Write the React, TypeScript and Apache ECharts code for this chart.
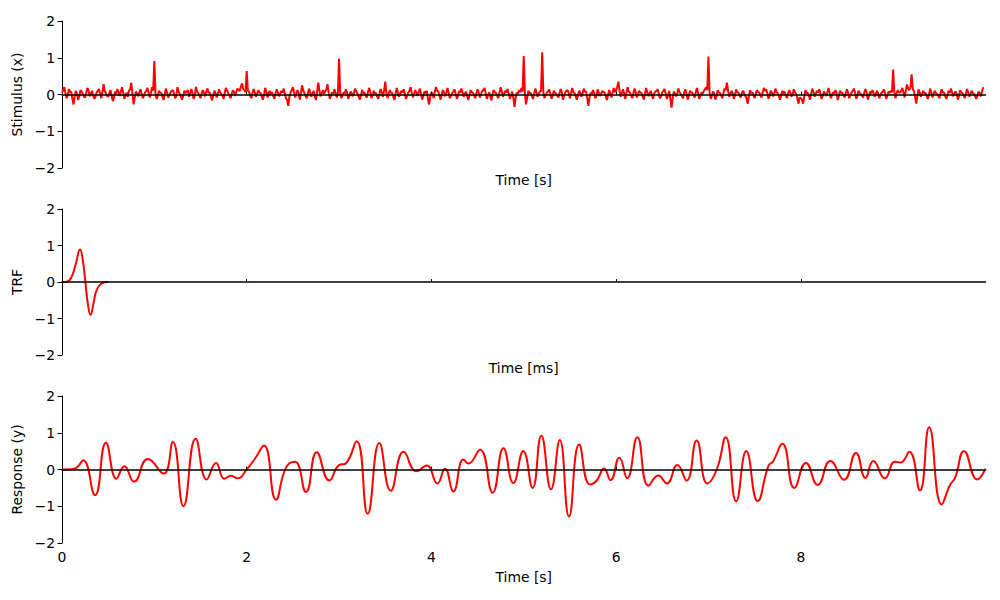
import React, { useEffect, useRef } from "react";
import * as echarts from "echarts";

// sample step of the stimulus, seconds
const STIM_DT = 0.0125;

// Stimulus (x), one row per 0.5 s
const stimulus: number[] = [
  0.05, 0.12, 0.2, 0.04, -0.1, -0.02, 0.15, 0.06, 0.08, -0.12, -0.27, -0.05, 0.1, 0.02, -0.15, -0.04, 0.12, 0.08, 0.02, -0.06, -0.08, 0.05, 0.18, 0.1, -0.05, 0.03, 0.1, -0.02, -0.12, -0.06, 0.06, 0.1, 0.15, 0.02, -0.1, 0.06, 0.28, 0.1, 0.03, -0.04,
  -0.06, 0.04, 0.12, -0.03, -0.18, -0.08, 0.08, 0.02, 0.15, 0.06, -0.04, 0.08, 0.2, 0.05, -0.12, -0.02, 0.05, -0.06, 0.1, 0.14, 0.32, 0.04, -0.27, -0.1, 0.08, 0.03, -0.05, 0.06, 0.14, 0.02, -0.1, -0.03, 0.06, 0.1, 0.18, 0.05, -0.08, 0.04, 0.2, 0.1,
  0.91, 0.02, -0.12, -0.04, 0.1, 0.05, 0.04, -0.06, -0.15, 0.02, 0.16, 0.06, -0.08, -0.02, 0.06, 0.1, 0.12, 0.03, -0.1, -0.04, 0.2, 0.08, 0.02, -0.05, -0.14, -0.03, 0.1, 0.04, 0.08, 0.12, -0.06, 0.02, 0.15, 0.05, -0.12, -0.04, 0.21, 0.08, 0.04, -0.03,
  -0.1, 0.03, 0.12, 0.05, -0.05, 0.08, 0.16, 0.04, 0.06, -0.06, -0.16, -0.02, 0.1, 0.04, -0.08, 0.02, 0.14, 0.06, 0.02, -0.04, -0.12, 0.05, 0.18, 0.1, 0.05, -0.03, -0.1, 0.02, 0.12, 0.06, -0.04, 0.08, 0.16, 0.12, 0.1, 0.22, 0.3, 0.14, 0.12, 0.06,
  0.64, 0.1, 0.08, -0.03, -0.1, 0.04, 0.15, 0.06, -0.06, 0.02, 0.12, 0.05, 0.04, -0.05, -0.14, -0.02, 0.18, 0.08, -0.08, 0.03, 0.1, 0.02, 0.06, -0.04, -0.12, 0.03, 0.14, 0.06, -0.05, 0.02, 0.1, 0.05, 0.16, 0.03, -0.1, -0.15, -0.31, -0.06, 0.05, 0.12,
  0.2, 0.06, -0.08, 0.02, 0.12, 0.04, -0.14, 0.05, 0.25, 0.1, 0.04, -0.04, -0.1, 0.03, 0.16, 0.06, -0.06, 0.02, 0.1, -0.05, -0.15, 0.08, 0.32, 0.1, -0.05, 0.04, 0.12, 0.02, 0.08, 0.14, 0.28, 0.05, -0.12, -0.03, 0.06, 0.02, 0.14, 0.04, -0.08, 0.05,
  0.98, 0.04, -0.1, -0.02, 0.06, 0.03, 0.14, 0.05, -0.12, -0.03, 0.08, 0.02, -0.05, 0.06, 0.16, 0.08, 0.02, -0.06, -0.14, -0.02, 0.12, 0.04, 0.05, -0.03, -0.08, 0.06, 0.18, 0.08, -0.1, -0.02, 0.1, 0.03, 0.04, -0.05, -0.12, 0.02, 0.15, 0.06, -0.06, 0.1,
  0.35, 0.06, -0.1, 0.02, 0.12, 0.05, 0.04, -0.06, -0.15, 0.03, 0.18, 0.06, -0.06, 0.02, 0.1, 0.05, 0.14, 0.02, -0.12, -0.04, 0.06, 0.1, 0.2, 0.04, -0.08, 0.02, 0.12, 0.05, -0.04, 0.06, 0.16, 0.02, -0.14, -0.03, 0.08, 0.04, 0.1, -0.12, -0.27, -0.06,
  0.06, 0.02, -0.1, 0.08, 0.2, 0.1, 0.08, -0.04, -0.14, 0.02, 0.12, 0.05, -0.05, 0.06, 0.18, 0.04, -0.1, -0.02, 0.04, 0.08, 0.14, 0.03, -0.12, -0.04, 0.1, 0.05, 0.16, 0.06, -0.06, 0.02, 0.08, -0.04, -0.15, -0.02, 0.12, 0.06, 0.05, -0.03, -0.1, 0.04,
  0.14, 0.05, -0.08, 0.02, 0.1, 0.12, 0.18, 0.04, -0.12, -0.02, 0.06, -0.05, -0.16, 0.02, 0.12, 0.06, 0.04, -0.04, -0.1, 0.06, 0.2, 0.08, -0.06, 0.02, 0.1, 0.05, 0.15, 0.03, -0.12, -0.02, 0.08, -0.1, -0.34, -0.08, 0.05, 0.03, 0.12, 0.06, 0.18, 0.08,
  1.05, 0.02, -0.27, -0.08, 0.1, 0.04, 0.04, -0.03, -0.12, 0.02, 0.16, 0.06, -0.06, 0.02, 0.08, 0.1, 1.15, 0.05, -0.1, -0.02, 0.05, 0.08, 0.14, 0.03, -0.12, -0.04, 0.1, 0.06, 0.02, -0.03, -0.08, 0.04, 0.15, 0.06, -0.14, -0.02, 0.06, 0.1, 0.12, 0.04,
  -0.1, 0.04, 0.18, 0.06, 0.04, -0.05, -0.14, -0.02, 0.1, 0.04, -0.06, 0.03, 0.16, 0.08, 0.08, -0.1, -0.31, -0.08, 0.05, 0.02, 0.12, 0.04, -0.1, -0.03, 0.14, 0.05, -0.04, 0.02, 0.1, 0.06, 0.06, -0.04, -0.15, -0.02, 0.12, 0.04, -0.08, 0.05, 0.18, 0.06,
  0.12, 0.2, 0.35, 0.1, -0.06, 0.04, 0.14, 0.02, -0.12, 0.05, 0.2, 0.08, 0.05, -0.03, -0.1, 0.04, 0.16, 0.06, -0.08, 0.02, 0.1, 0.05, 0.04, -0.05, -0.14, 0.02, 0.18, 0.06, -0.05, 0.03, 0.1, -0.02, -0.12, 0.03, 0.08, 0.1, 0.14, 0.02, -0.1, -0.04,
  0.06, 0.1, 0.15, 0.02, -0.12, -0.03, 0.1, -0.12, -0.36, -0.1, 0.08, 0.03, -0.05, 0.04, 0.16, 0.06, 0.02, -0.04, -0.1, 0.05, 0.14, 0.02, -0.14, -0.04, 0.1, 0.06, 0.05, -0.02, -0.08, 0.06, 0.18, 0.04, -0.12, -0.03, 0.06, 0.02, 0.1, 0.14, 0.2, 0.12,
  1.03, 0.04, -0.12, -0.03, 0.08, 0.02, -0.14, -0.04, 0.12, 0.05, 0.04, -0.03, -0.1, 0.04, 0.16, 0.12, 0.32, 0.1, -0.06, 0.02, 0.1, 0.04, -0.12, -0.02, 0.14, 0.06, 0.05, -0.03, -0.08, 0.04, 0.1, 0.02, -0.04, -0.1, -0.25, -0.05, 0.12, 0.04, 0.06, -0.02,
  -0.1, 0.03, 0.12, 0.05, 0.06, -0.02, -0.08, 0.06, 0.18, 0.1, 0.14, 0.04, -0.12, -0.03, 0.1, 0.05, -0.05, 0.02, 0.16, 0.06, 0.04, -0.04, -0.14, -0.02, 0.1, 0.03, 0.08, -0.03, -0.1, 0.04, 0.12, 0.05, -0.06, 0.02, 0.14, 0.06, 0.02, -0.1, -0.25, -0.08,
  -0.1, -0.14, -0.25, -0.05, 0.12, 0.04, 0.04, -0.03, -0.14, 0.02, 0.16, 0.06, -0.06, 0.03, 0.1, 0.05, 0.14, 0.02, -0.12, -0.04, 0.08, 0.03, -0.04, 0.06, 0.18, 0.05, -0.1, -0.02, 0.06, 0.03, 0.12, 0.04, -0.15, -0.03, 0.1, 0.05, 0.04, -0.02, -0.08, 0.04,
  0.14, 0.04, -0.1, -0.02, 0.06, 0.1, 0.16, 0.05, -0.12, -0.03, 0.1, 0.04, 0.02, -0.03, -0.08, 0.05, 0.15, 0.06, -0.14, -0.04, 0.08, 0.03, 0.12, 0.05, -0.06, 0.02, 0.1, 0.03, -0.1, -0.02, 0.05, 0.08, 0.14, 0.03, -0.12, -0.02, 0.08, 0.04, 0.1, 0.06,
  0.68, 0.05, -0.1, 0.03, 0.12, 0.06, 0.05, 0.1, 0.18, 0.04, -0.08, 0.12, 0.27, 0.16, 0.12, 0.2, 0.55, 0.14, 0.1, -0.06, -0.25, -0.04, 0.14, 0.05, -0.06, 0.02, 0.1, 0.04, 0.04, -0.03, -0.12, -0.02, 0.16, 0.06, -0.08, 0.02, 0.1, 0.04, 0.02, -0.03,
  -0.1, 0.03, 0.14, 0.05, 0.06, -0.03, -0.12, -0.02, 0.1, 0.04, 0.16, 0.06, -0.05, 0.02, 0.08, 0.03, -0.14, -0.04, 0.12, 0.05, 0.04, -0.02, -0.1, 0.03, 0.15, 0.06, -0.06, 0.02, 0.1, 0.04, 0.02, -0.05, -0.12, -0.02, 0.08, 0.03, -0.05, 0.08,
  0.2,
];

// TRF
const trfT = [0, 0.05, 0.1, 0.15, 0.195, 0.225, 0.253, 0.28, 0.31, 0.34, 0.375, 0.43, 0.5];
const trfV = [0, 0.005, 0.12, 0.5, 0.89, 0.6, 0, -0.6, -0.9, -0.6, -0.22, -0.04, 0];

// Response (y)
const respT = [
  0, 0.1, 0.16, 0.23, 0.357, 0.476, 0.59, 0.675, 0.78, 0.93, 1.1, 1.2, 1.315, 1.447, 1.567, 1.668, 1.757, 1.83, 1.9,
  2.0, 2.09, 2.187, 2.317, 2.425, 2.523, 2.642, 2.758, 2.895, 3.0, 3.07, 3.19, 3.31, 3.436, 3.56, 3.7, 3.84, 3.95,
  4.064, 4.147, 4.237, 4.346, 4.4, 4.526, 4.663, 4.78, 4.887, 4.995, 5.096, 5.19, 5.295, 5.39, 5.49, 5.6, 5.717,
  5.79, 5.87, 5.94, 6.035, 6.12, 6.23, 6.35, 6.457, 6.55, 6.663, 6.764, 6.872, 6.988, 7.09, 7.187, 7.3, 7.41, 7.533,
  7.65, 7.7, 7.8, 7.93, 8.056, 8.183, 8.32, 8.468, 8.598, 8.7, 8.785, 8.91, 9.02, 9.08, 9.175, 9.29, 9.39, 9.525,
  9.616, 9.67, 9.768, 9.91, 10.0,
];
const respV = [
  0, 0.01, 0.05, 0.25, -0.7, 0.73, -0.25, 0.09, -0.33, 0.285, -0.11, 0.75, -1.0, 0.84, -0.27, 0.18, -0.25, -0.17, -0.24,
  0.0, 0.3, 0.65, -0.82, 0.05, 0.21, -0.61, 0.47, -0.3, 0.12, 0.16, 0.77, -1.2, 0.72, -0.58, 0.48, -0.05, 0.11,
  -0.38, 0.02, -0.6, 0.27, 0.16, 0.54, -0.63, 0.58, -0.37, 0.5, -0.5, 0.92, -0.54, 0.8, -1.28, 0.68, -0.41,
  -0.3, 0.03, -0.29, 0.32, -0.24, 0.88, -0.44, -0.16, -0.38, 0.12, -0.3, 0.79, -0.38, 0.0, 0.88, -0.87, 0.5, -0.86,
  0.1, 0.22, 0.7, -0.5, 0.18, -0.42, 0.23, -0.28, 0.45, -0.23, 0.23, -0.24, 0.21, 0.19, 0.48, -0.57, 1.15, -0.95,
  -0.42, -0.23, 0.5, -0.27, 0.02,
];

const yTickValues = [-2, -1, 0, 1, 2];
const xLabelValues = [0, 2, 4, 6, 8];
const xTickValuesOnZero = [2, 4, 6, 8];
const yNames = ["Stimulus (x)", "TRF", "Response (y)"];
const xNames = ["Time [s]", "Time [ms]", "Time [s]"];

const FONT = "DejaVu Sans";
const FS = 13.9;
const RED = "#ff0000";

const fmt = (v: number) => (v < 0 ? "\u2212" + Math.abs(v) : String(v));

export default function App() {
  const ref = useRef<HTMLDivElement>(null);
  useEffect(() => {
    if (!ref.current) return;
    const chart = echarts.init(ref.current, undefined, { renderer: "svg" });

    const grids = [
      { left: 62, right: 14.5, top: 21, height: 147 },
      { left: 62, right: 14.5, top: 209, height: 146 },
      { left: 62, right: 14.5, top: 396, height: 147 },
    ];
    const nameGaps = [5, 6, 27];

    const xAxis: any[] = [];
    const yAxis: any[] = [];
    for (let i = 0; i < 3; i++) {
      xAxis.push({
        type: "value",
        gridIndex: i,
        min: 0,
        max: 10,
        position: "bottom",
        axisLine: { show: false, onZero: false },
        axisTick: { show: false },
        splitLine: { show: false },
        axisLabel: {
          show: i === 2,
          customValues: xLabelValues,
          margin: 7,
          color: "#000",
          fontFamily: FONT,
          fontSize: FS,
          formatter: fmt,
        },
        name: xNames[i],
        nameLocation: "middle",
        nameGap: nameGaps[i],
        nameTextStyle: { color: "#000", fontFamily: FONT, fontSize: FS },
      });
      xAxis.push({
        type: "value",
        gridIndex: i,
        min: 0,
        max: 10,
        position: "top",
        z: 5,
        axisLine: { show: true, onZero: true, lineStyle: { color: "#000", width: 1.5 } },
        axisTick: { show: true, customValues: xTickValuesOnZero, length: 3, lineStyle: { color: "#000", width: 1 } },
        axisLabel: { show: false },
        splitLine: { show: false },
      });
      yAxis.push({
        type: "value",
        gridIndex: i,
        min: -2,
        max: 2,
        interval: 1,
        axisLine: { show: true, onZero: false, lineStyle: { color: "#000", width: 1 } },
        axisTick: { show: true, length: 4.5, lineStyle: { color: "#000", width: 1 } },
        axisLabel: {
          customValues: yTickValues,
          margin: 7,
          color: "#000",
          fontFamily: FONT,
          fontSize: FS,
          formatter: fmt,
        },
        splitLine: { show: false },
        name: yNames[i],
        nameLocation: "middle",
        nameRotate: 90,
        nameGap: 30,
        nameTextStyle: { color: "#000", fontFamily: FONT, fontSize: FS },
      });
    }

    const stimData = stimulus.map((v, k) => [k * STIM_DT, v]);
    const trfData = trfT.map((t, k) => [t, trfV[k]]);
    const respData = respT.map((t, k) => [t, respV[k]]);

    chart.setOption({
      animation: false,
      backgroundColor: "#fff",
      grid: grids,
      xAxis,
      yAxis,
      series: [
        {
          type: "line",
          xAxisIndex: 0,
          yAxisIndex: 0,
          data: stimData,
          showSymbol: false,
          lineStyle: { color: RED, width: 2 },
          z: 2,
        },
        {
          type: "line",
          xAxisIndex: 2,
          yAxisIndex: 1,
          data: trfData,
          smooth: true,
          showSymbol: false,
          lineStyle: { color: RED, width: 2 },
          z: 2,
        },
        {
          type: "line",
          xAxisIndex: 4,
          yAxisIndex: 2,
          data: respData,
          smooth: true,
          showSymbol: false,
          lineStyle: { color: RED, width: 2 },
          z: 2,
        },
      ],
    });
    return () => chart.dispose();
  }, []);
  return (
    <div
      ref={ref}
      style={{ position: "absolute", left: 0, top: 0, width: 1000, height: 600 }}
    />
  );
}
